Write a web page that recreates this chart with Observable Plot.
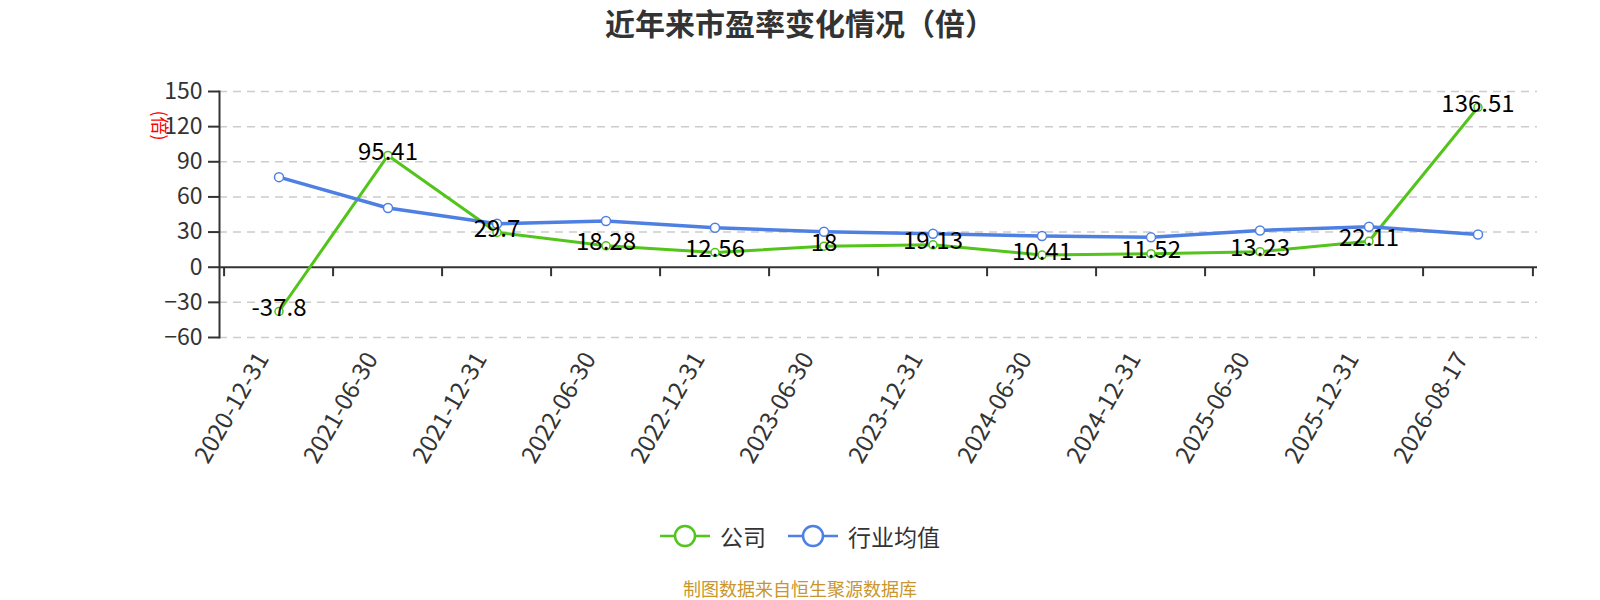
<!DOCTYPE html>
<html>
<head>
<meta charset="utf-8">
<script src="https://cdn.jsdelivr.net/npm/d3@7"></script>
<script src="https://cdn.jsdelivr.net/npm/@observablehq/plot@0.6"></script>
<style>
  html, body { margin: 0; padding: 0; background: #fff; }
  body { font-family: "Noto Sans CJK SC", "Noto Sans", sans-serif; }
  #wrap { width: 1600px; height: 600px; overflow: hidden; position: relative; }
  #title { height: 60px; line-height: 45px; text-align: center; font-size: 30px; font-weight: bold; color: #333; }
  #chart { height: 440px; }
  #legend { height: 72px; display: flex; align-items: center; justify-content: center; gap: 22px; font-size: 23px; color: #333; }
  .item { display: flex; align-items: center; gap: 10px; }
  #caption { height: 28px; line-height: 32px; text-align: center; font-size: 18px; color: #c9962e; }
</style>
</head>
<body>
<div id="wrap">
  <div id="title">近年来市盈率变化情况（倍）</div>
  <div id="chart"></div>
  <div id="legend"></div>
  <div id="caption">制图数据来自恒生聚源数据库</div>
</div>
<script>
const dates = ["2020-12-31","2021-06-30","2021-12-31","2022-06-30","2022-12-31","2023-06-30","2023-12-31","2024-06-30","2024-12-31","2025-06-30","2025-12-31","2026-08-17"];
const company = [-37.8, 95.41, 29.7, 18.28, 12.56, 18, 19.13, 10.41, 11.52, 13.23, 22.11, 136.51];
const industry = [76.9, 50.5, 37.1, 39.4, 33.7, 30.3, 28.6, 26.6, 25.5, 31.4, 34.5, 28.0];
const yTicks = [-60, -30, 0, 30, 60, 90, 120, 150];
const seriesNames = ["公司", "行业均值"];
const colors = ["#52c41a", "#4e80e4"];

const W = 1600, H = 440, ML = 219, MR = 63, MT = 31, MB = 163;
const bw = (W - ML - MR) / dates.length;

const comp = dates.map((d, i) => ({date: d, value: company[i]}));
const ind = dates.map((d, i) => ({date: d, value: industry[i]}));

const tickSymbol = { draw(ctx) { ctx.moveTo(0, 0); ctx.lineTo(0, 9); } };

const plot = Plot.plot({
  width: W, height: H,
  marginLeft: ML, marginRight: MR, marginTop: MT, marginBottom: MB,
  style: { fontFamily: '"Noto Sans CJK SC", "Noto Sans", sans-serif', background: "#fff", overflow: "visible" },
  x: { type: "band", domain: dates, padding: 0, label: null },
  y: { domain: [-60, 150], label: null },
  marks: [
    Plot.gridY(yTicks.filter(t => t !== 0), { stroke: "#cccccc", strokeOpacity: 1, strokeWidth: 1.5, strokeDasharray: "8,6" }),
    Plot.axisY(yTicks, { tickSize: 11, tickPadding: 6, fontSize: 23, fill: "#333", stroke: "#333", strokeWidth: 2, label: null }),
    Plot.frame({ anchor: "left", stroke: "#333", strokeWidth: 2 }),
    Plot.axisX({ anchor: "bottom", tickSize: 0, tickPadding: 17, tickRotate: -60, fontSize: 24, fill: "#333", dx: -16, label: null }),
    Plot.ruleY([0], { stroke: "#333", strokeWidth: 2 }),
    Plot.dot(dates, { x: d => d, y: 0, symbol: tickSymbol, fill: "none", stroke: "#333", strokeWidth: 2, dx: -bw / 2 }),
    Plot.dot(dates.slice(-1), { x: d => d, y: 0, symbol: tickSymbol, fill: "none", stroke: "#333", strokeWidth: 2, dx: bw / 2 }),
    Plot.text(["(倍)"], { frameAnchor: "top-left", textAnchor: "middle", lineAnchor: "middle", dx: -61, dy: 34, rotate: 90, fill: "red", fontSize: 18 }),
    Plot.line(comp, { x: "date", y: "value", stroke: colors[0], strokeWidth: 3 }),
    Plot.dot(comp, { x: "date", y: "value", r: 4, fill: "#fff", stroke: colors[0], strokeWidth: 1.5 }),
    Plot.line(ind, { x: "date", y: "value", stroke: colors[1], strokeWidth: 3.5 }),
    Plot.dot(ind, { x: "date", y: "value", r: 4.5, fill: "#fff", stroke: colors[1], strokeWidth: 1.5 }),
    Plot.text(comp, { x: "date", y: "value", text: d => String(d.value), fontSize: 24, fill: "#000", dy: -3 })
  ]
});
document.getElementById("chart").appendChild(plot);

const legend = document.getElementById("legend");
seriesNames.forEach((name, i) => {
  const item = document.createElement("div");
  item.className = "item";
  item.innerHTML = `<svg width="50" height="24"><line x1="0" y1="12" x2="50" y2="12" stroke="${colors[i]}" stroke-width="2.5"/><circle cx="25" cy="12" r="10" fill="#fff" stroke="${colors[i]}" stroke-width="2.5"/></svg><span>${name}</span>`;
  legend.appendChild(item);
});
</script>
</body>
</html>
